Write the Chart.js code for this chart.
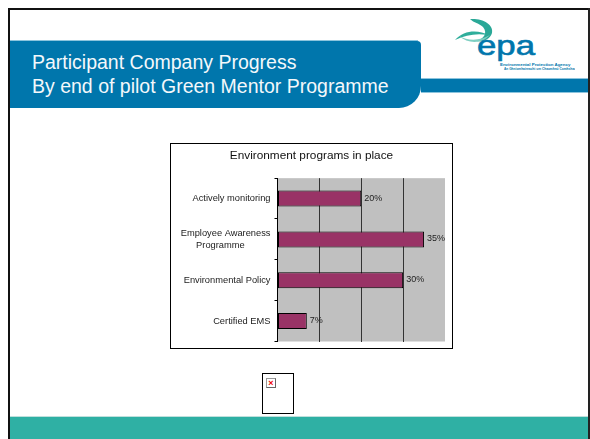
<!DOCTYPE html>
<html><head><meta charset="utf-8">
<style>
html,body{margin:0;padding:0;background:#fff;width:590px;height:439px;overflow:hidden;font-family:"Liberation Sans",Arial,sans-serif}
#page{position:absolute;left:0;top:0;width:590px;height:439px;background:#fff;filter:blur(0.35px)}
.abs{position:absolute}
</style>
<script src="https://cdn.jsdelivr.net/npm/chart.js@4/dist/chart.umd.min.js"></script>
</head><body><div id="page">
<div class="abs" style="left:8px;top:8px;width:582px;height:2px;background:#111"></div>
<div class="abs" style="left:10px;top:41px;width:411px;height:67px;background:#0076ac;border-radius:0 4px 22px 0"></div>
<div class="abs" style="left:10px;top:40px;width:408px;height:1px;background:#8cc4dd"></div>
<div class="abs" style="left:421px;top:78px;width:167px;height:15px;box-sizing:border-box;background:#0076ac;border-top:1px solid #8cc4dd;border-bottom:1px solid #8cc4dd"></div>
<div class="abs" style="left:32px;top:51px;color:#f4f8fb;font-size:19.5px;line-height:23.5px;white-space:nowrap">Participant Company Progress<br>By end of pilot Green Mentor Programme</div>
<svg class="abs" style="left:450px;top:13px" width="125" height="60" viewBox="0 0 125 60">
<path d="M20 6 C32 5 44 11 42 20 C40 27 32 29 26 28 C34 26 38 20 33 14 C29 10 24 10 20 6Z" fill="#2aa897"/>
<path d="M5 27 C14 16 30 17 38 22 C26 20 16 22 5 27Z" fill="#2fae9b"/>
<path d="M9 23 C18 28 30 28 40 22 C32 31 18 31 9 23Z" fill="#7fcfc2"/>
<text x="27" y="42" font-family="Liberation Sans" font-size="28" stroke="#0076ac" stroke-width="0.6" fill="#0076ac" textLength="58" lengthAdjust="spacingAndGlyphs">epa</text>
<text x="50" y="53" font-family="Liberation Sans" font-size="4.4" font-weight="700" fill="#0076ac">Environmental Protection Agency</text>
<text x="54" y="57" font-family="Liberation Sans" font-size="3.2" font-weight="700" fill="#0076ac">An Ghníomhaireacht um Chaomhnú Comhshaoil</text>
</svg>
<div class="abs" style="left:170px;top:143px;width:283px;height:206px;box-sizing:border-box;border:1px solid #000;background:#fff"></div>
<canvas id="c" class="abs" style="left:171px;top:144px" width="281" height="204"></canvas>
<div class="abs" style="left:262px;top:373px;width:32px;height:41px;box-sizing:border-box;border:1px solid #000;background:#fff"></div>
<div class="abs" style="left:266px;top:378px;width:10px;height:10px;box-sizing:border-box;border:1px solid #999;border-right-color:#666;border-bottom-color:#666;background:#fff;color:#e00;font-size:9px;line-height:8px;text-align:center;font-weight:700">×</div>
<div class="abs" style="left:10px;top:416px;width:578px;height:1px;background:#bfe0dc"></div>
<div class="abs" style="left:10px;top:417px;width:578px;height:22px;background:#2fb0a4"></div>
<div class="abs" style="left:8px;top:8px;width:2px;height:431px;background:#111"></div>
<div class="abs" style="left:588px;top:8px;width:2px;height:431px;background:#222"></div>
</div>
<script>
const chartTitle = "Environment programs in place";
const categories = [
  "Actively monitoring",
  ["Employee Awareness", "Programme\u00A0\u00A0\u00A0\u00A0\u00A0\u00A0\u00A0\u00A0\u00A0\u00A0"],
  "Environmental Policy",
  "Certified EMS"
];
const percentValues = [20, 35, 30, 7];
const axisMax = 40;
const axisStep = 10;

const plotBackground = {
  id: "plotBackground",
  beforeDraw(chart) {
    const a = chart.chartArea, x = chart.ctx;
    x.save(); x.fillStyle = "#c0c0c0";
    x.fillRect(a.left, a.top, a.right - a.left, a.bottom - a.top);
    x.restore();
  }
};
const valueLabels = {
  id: "valueLabels",
  afterDatasetsDraw(chart) {
    const x = chart.ctx, meta = chart.getDatasetMeta(0);
    x.save();
    x.font = "9px 'Liberation Sans'";
    x.fillStyle = "#222";
    x.textBaseline = "middle";
    x.textAlign = "left";
    meta.data.forEach((b, i) => x.fillText(percentValues[i] + "%", b.x + 3, b.y - 0.5));
    x.restore();
  }
};
new Chart(document.getElementById("c"), {
  type: "bar",
  data: { labels: categories, datasets: [{
    data: percentValues,
    backgroundColor: "#993366",
    borderColor: "#000",
    borderWidth: 1,
    borderSkipped: false,
    barPercentage: 0.39,
    categoryPercentage: 1
  }]},
  plugins: [plotBackground, valueLabels],
  options: {
    indexAxis: "y",
    responsive: false,
    animation: false,
    layout: { padding: { left: 7, right: 7, top: 0, bottom: 6.5 } },
    plugins: {
      legend: { display: false },
      tooltip: { enabled: false },
      title: { display: true, text: chartTitle, color: "#111",
        font: { family: "'Liberation Sans'", size: 11.8, weight: "normal" },
        padding: { top: 5, bottom: 15 } }
    },
    scales: {
      x: {
        min: 0, max: axisMax,
        afterFit(s) { s.height = 0; s.paddingLeft = 0; s.paddingRight = 0; },
        ticks: { display: false, stepSize: axisStep },
        grid: { color: c => c.index === 0 || c.tick.value === axisMax ? "rgba(0,0,0,0)" : "#333", lineWidth: 1, drawTicks: false },
        border: { display: false }
      },
      y: {
        afterFit(s) { s.width = 99.5; s.paddingTop = 0; s.paddingBottom = 0; },
        ticks: { color: "#222", padding: 4, crossAlign: "near", autoSkip: false,
          font: { family: "'Liberation Sans'", size: 9.3 } },
        grid: { drawOnChartArea: false, color: "#000", tickLength: 3, offset: true },
        border: { color: "#000", display: true }
      }
    }
  }
});
</script>
</body></html>
